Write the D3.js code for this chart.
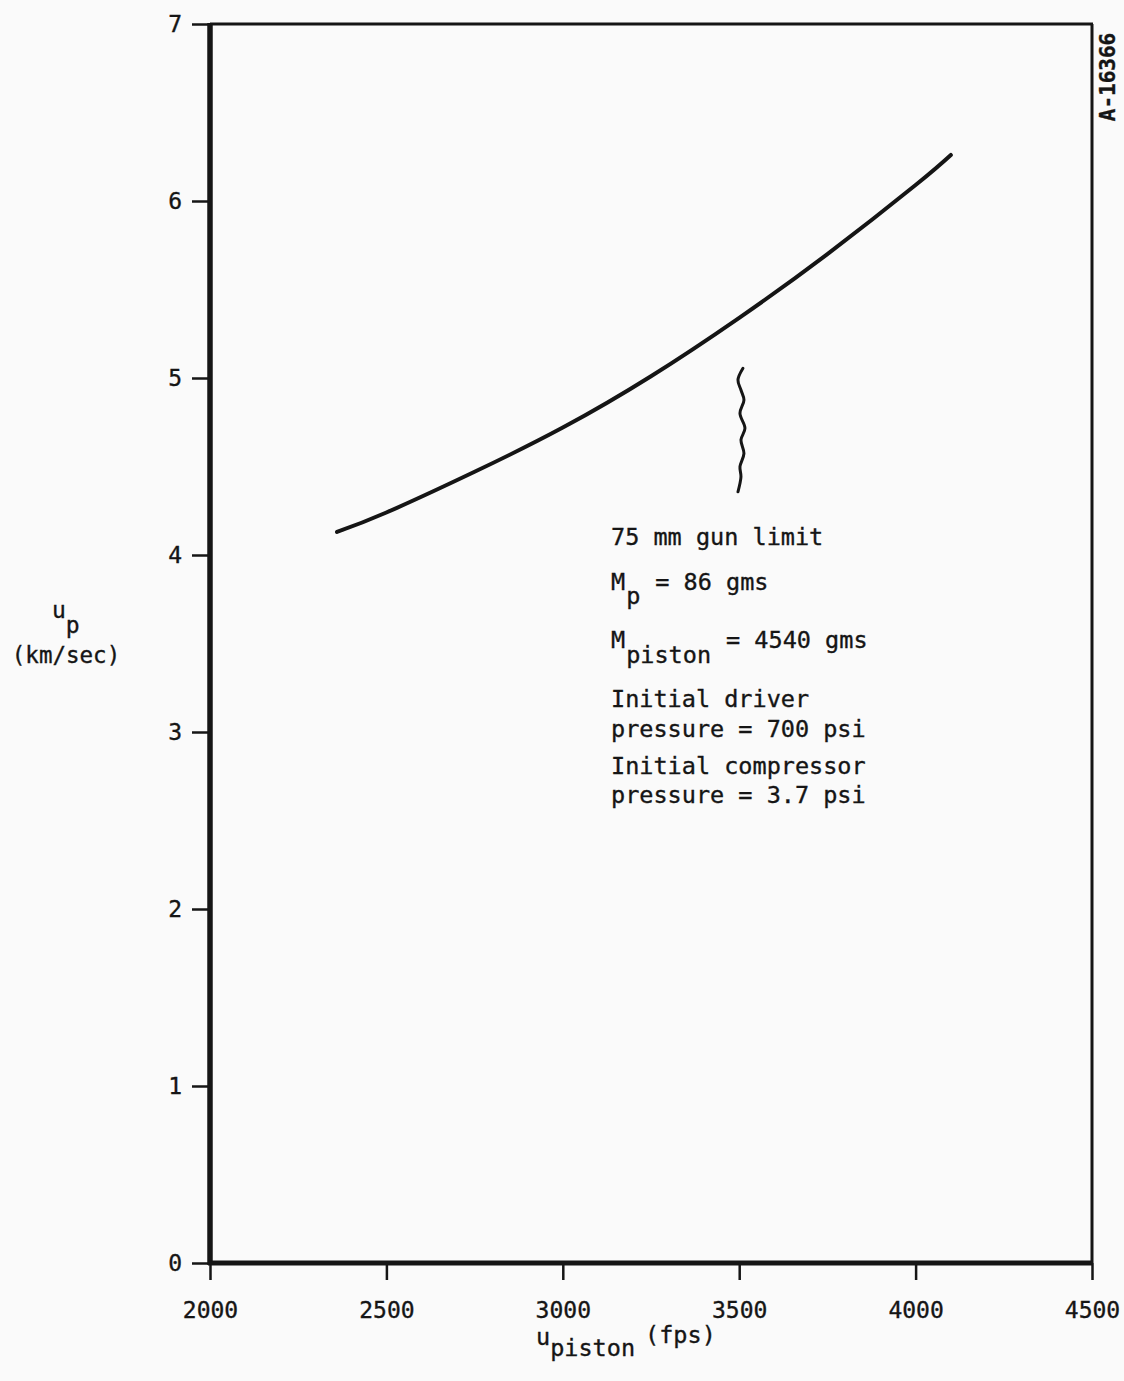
<!DOCTYPE html>
<html>
<head>
<meta charset="utf-8">
<script src="https://cdn.jsdelivr.net/npm/d3@7"></script>
<style>
  html, body { margin: 0; padding: 0; background: #fafafa; }
  svg { display: block; }
  text { font-family: "DejaVu Sans Mono", "Liberation Mono", monospace; fill: #151515; stroke: #151515; stroke-width: 0.35px; }
</style>
</head>
<body>
<svg id="chart" width="1124" height="1381"></svg>
<script>
// Projectile velocity vs piston velocity (75 mm light-gas gun)
const pistonSpeed = [2360, 2500, 2750, 3000, 3250, 3500, 3750, 4000, 4100]; // fps
const projectileSpeed = [4.13, 4.24, 4.47, 4.72, 5.01, 5.34, 5.70, 6.09, 6.26]; // km/sec

const xTicks = [2000, 2500, 3000, 3500, 4000, 4500];
const yTicks = [0, 1, 2, 3, 4, 5, 6, 7];

// Gun-limit marker: a short wavy vertical stroke near 3500 fps
const limitX = 3505;
const limitWave = [5.055, 4.989, 4.932, 4.876, 4.801, 4.716, 4.650, 4.574, 4.499, 4.442, 4.357];
const limitWaveOffset = [2, -3, 0, 3, -1, 4, 0, 3, -1, 0, -3];

const ink = "#151515";
const svg = d3.select("#chart");

const x = d3.scaleLinear().domain([2000, 4500]).range([210, 1092]);
const y = d3.scaleLinear().domain([0, 7]).range([1263, 24]);

// Y axis ticks and labels
const yAxis = svg.append("g")
  .attr("transform", `translate(${x(2000)},0)`)
  .call(d3.axisLeft(y).tickValues(yTicks).tickSize(18).tickPadding(10).tickFormat(d3.format("d")));
yAxis.select(".domain").remove();
yAxis.selectAll(".tick line").attr("stroke", ink).attr("stroke-width", 2.5);
yAxis.selectAll(".tick text").attr("font-size", 23).attr("font-family", "DejaVu Sans Mono").attr("fill", ink);

// X axis ticks and labels
const xAxis = svg.append("g")
  .attr("transform", `translate(0,${y(0)})`)
  .call(d3.axisBottom(x).tickValues(xTicks).tickSize(17).tickPadding(22).tickFormat(d3.format("d")));
xAxis.select(".domain").remove();
xAxis.selectAll(".tick line").attr("stroke", ink).attr("stroke-width", 2.5);
xAxis.selectAll(".tick text").attr("font-size", 23).attr("font-family", "DejaVu Sans Mono").attr("fill", ink);

// Frame: heavy left and bottom axes, lighter top and right edges
svg.append("line").attr("x1", x(2000)).attr("x2", x(2000)).attr("y1", y(7) - 1).attr("y2", y(0) + 2)
  .attr("stroke", ink).attr("stroke-width", 5.5);
svg.append("line").attr("x1", x(2000) - 2).attr("x2", x(4500)).attr("y1", y(0)).attr("y2", y(0))
  .attr("stroke", ink).attr("stroke-width", 5);
svg.append("line").attr("x1", x(2000)).attr("x2", x(4500) + 1).attr("y1", y(7)).attr("y2", y(7))
  .attr("stroke", ink).attr("stroke-width", 3);
svg.append("line").attr("x1", x(4500)).attr("x2", x(4500)).attr("y1", y(7)).attr("y2", y(0))
  .attr("stroke", ink).attr("stroke-width", 3);

// Performance curve
const curve = d3.line()
  .x((d, i) => x(pistonSpeed[i]))
  .y(d => y(d))
  .curve(d3.curveNatural);
svg.append("path")
  .attr("d", curve(projectileSpeed))
  .attr("fill", "none").attr("stroke", ink).attr("stroke-width", 4)
  .attr("stroke-linecap", "round");

// Wavy gun-limit marker
const wave = d3.line()
  .x((d, i) => x(limitX) + limitWaveOffset[i])
  .y(d => y(d))
  .curve(d3.curveCatmullRom.alpha(0.5));
svg.append("path")
  .attr("d", wave(limitWave))
  .attr("fill", "none").attr("stroke", ink).attr("stroke-width", 3)
  .attr("stroke-linecap", "round");

// Annotation block
const note = svg.append("g").attr("font-size", 23.5);
const nx = 611;
note.append("text").attr("x", nx).attr("y", 545).text("75 mm gun limit");

const mp = note.append("text").attr("x", nx).attr("y", 590);
mp.append("tspan").text("M");
mp.append("tspan").attr("dy", 14).attr("dx", 1).text("p");
mp.append("tspan").attr("dy", -14).attr("dx", 15).text("= 86 gms");

const mpist = note.append("text").attr("x", nx).attr("y", 648);
mpist.append("tspan").text("M");
mpist.append("tspan").attr("dy", 15).attr("dx", 1).text("piston");
mpist.append("tspan").attr("dy", -15).attr("dx", 15).text("= 4540 gms");

note.append("text").attr("x", nx).attr("y", 707).text("Initial driver");
note.append("text").attr("x", nx).attr("y", 737).text("pressure = 700 psi");
note.append("text").attr("x", nx).attr("y", 774).text("Initial compressor");
note.append("text").attr("x", nx).attr("y", 803).text("pressure = 3.7 psi");

// Y axis title
const yt = svg.append("text").attr("font-size", 23).attr("x", 52).attr("y", 618);
yt.append("tspan").text("u");
yt.append("tspan").attr("dy", 15).text("p");
svg.append("text").attr("font-size", 22.5).attr("x", 66).attr("y", 663)
  .attr("text-anchor", "middle").text("(km/sec)");

// X axis title
const xt = svg.append("text").attr("font-size", 23.5).attr("x", 536).attr("y", 1345);
xt.append("tspan").text("u");
xt.append("tspan").attr("dy", 11).text("piston");
xt.append("tspan").attr("dy", -13).attr("dx", 10).text("(fps)");

// Drawing number along the right edge
svg.append("text")
  .attr("transform", "translate(1115,77) rotate(-90)")
  .attr("text-anchor", "middle")
  .attr("font-size", 21).attr("font-weight", "bold")
  .text("A-16366");
</script>
</body>
</html>
